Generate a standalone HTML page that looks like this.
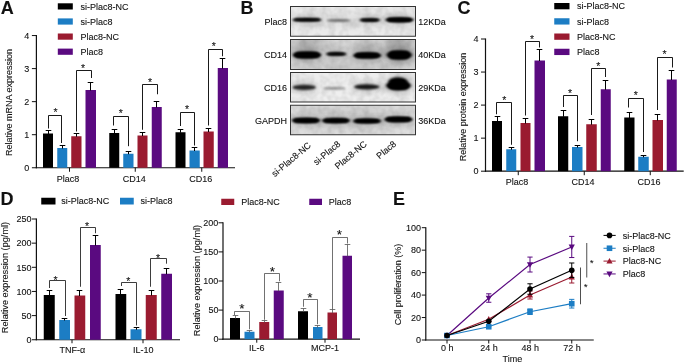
<!DOCTYPE html>
<html><head><meta charset="utf-8"><title>Figure</title>
<style>
html,body{margin:0;padding:0;background:#fff;}
body{width:685px;height:364px;overflow:hidden;}
svg{display:block;}
svg text{font-family:"Liberation Sans",sans-serif;fill:#111;stroke:#111;stroke-width:0.1px;}
</style></head><body>
<svg width="685" height="364" viewBox="0 0 685 364">
<rect x="0" y="0" width="685" height="364" fill="#ffffff"/>
<g opacity="0.999">
<text x="0.8" y="13.8" font-size="18" text-anchor="start" font-weight="bold" >A</text>
<rect x="57.8" y="3.3" width="15" height="6.2" fill="#000000"/>
<text x="80.5" y="9.8" font-size="9" text-anchor="start" font-weight="normal" >si-Plac8-NC</text>
<rect x="57.8" y="18.4" width="15" height="6.2" fill="#1c7dc4"/>
<text x="80.5" y="24.9" font-size="9" text-anchor="start" font-weight="normal" >si-Plac8</text>
<rect x="57.8" y="33.5" width="15" height="6.2" fill="#9a1b30"/>
<text x="80.5" y="40" font-size="9" text-anchor="start" font-weight="normal" >Plac8-NC</text>
<rect x="57.8" y="48.6" width="15" height="6.2" fill="#5a0a80"/>
<text x="80.5" y="55.1" font-size="9" text-anchor="start" font-weight="normal" >Plac8</text>
<line x1="36.4" y1="35.05" x2="36.4" y2="168.35" stroke="#111" stroke-width="1.2"/>
<line x1="35.8" y1="167.75" x2="235" y2="167.75" stroke="#111" stroke-width="1.2"/>
<line x1="31.9" y1="167.75" x2="36.4" y2="167.75" stroke="#111" stroke-width="1.0"/>
<text x="29.2" y="170.95" font-size="9" text-anchor="end" font-weight="normal" >0</text>
<line x1="31.9" y1="134.7" x2="36.4" y2="134.7" stroke="#111" stroke-width="1.0"/>
<text x="29.2" y="137.9" font-size="9" text-anchor="end" font-weight="normal" >1</text>
<line x1="31.9" y1="101.65" x2="36.4" y2="101.65" stroke="#111" stroke-width="1.0"/>
<text x="29.2" y="104.85" font-size="9" text-anchor="end" font-weight="normal" >2</text>
<line x1="31.9" y1="68.6" x2="36.4" y2="68.6" stroke="#111" stroke-width="1.0"/>
<text x="29.2" y="71.8" font-size="9" text-anchor="end" font-weight="normal" >3</text>
<line x1="31.9" y1="35.55" x2="36.4" y2="35.55" stroke="#111" stroke-width="1.0"/>
<text x="29.2" y="38.75" font-size="9" text-anchor="end" font-weight="normal" >4</text>
<text transform="translate(12.4,102.5) rotate(-90)" font-size="9" text-anchor="middle">Relative mRNA expression</text>
<rect x="43" y="133.5" width="10" height="34.25" fill="#000000"/>
<line x1="48.5" y1="134" x2="48.5" y2="130.5" stroke="#000" stroke-width="1"/>
<line x1="45.7" y1="130.5" x2="51.3" y2="130.5" stroke="#000" stroke-width="1"/>
<rect x="57.25" y="148" width="10" height="19.75" fill="#1c7dc4"/>
<line x1="62.5" y1="148.5" x2="62.5" y2="145.5" stroke="#000" stroke-width="1"/>
<line x1="59.7" y1="145.5" x2="65.3" y2="145.5" stroke="#000" stroke-width="1"/>
<rect x="71.25" y="136.25" width="10.25" height="31.5" fill="#9a1b30"/>
<line x1="76.5" y1="136.75" x2="76.5" y2="133.5" stroke="#000" stroke-width="1"/>
<line x1="73.7" y1="133.5" x2="79.3" y2="133.5" stroke="#000" stroke-width="1"/>
<rect x="85.5" y="90" width="10.5" height="77.75" fill="#5a0a80"/>
<line x1="90.5" y1="90.5" x2="90.5" y2="82.5" stroke="#000" stroke-width="1"/>
<line x1="87.7" y1="82.5" x2="93.3" y2="82.5" stroke="#000" stroke-width="1"/>
<rect x="109.25" y="133" width="10" height="34.75" fill="#000000"/>
<line x1="114.5" y1="133.5" x2="114.5" y2="129.5" stroke="#000" stroke-width="1"/>
<line x1="111.7" y1="129.5" x2="117.3" y2="129.5" stroke="#000" stroke-width="1"/>
<rect x="123.25" y="153.75" width="10.25" height="14" fill="#1c7dc4"/>
<line x1="128.5" y1="154.25" x2="128.5" y2="151.5" stroke="#000" stroke-width="1"/>
<line x1="125.7" y1="151.5" x2="131.3" y2="151.5" stroke="#000" stroke-width="1"/>
<rect x="137.5" y="135.5" width="10" height="32.25" fill="#9a1b30"/>
<line x1="142.5" y1="136" x2="142.5" y2="132.5" stroke="#000" stroke-width="1"/>
<line x1="139.7" y1="132.5" x2="145.3" y2="132.5" stroke="#000" stroke-width="1"/>
<rect x="151.75" y="107" width="10" height="60.75" fill="#5a0a80"/>
<line x1="156.5" y1="107.5" x2="156.5" y2="101.5" stroke="#000" stroke-width="1"/>
<line x1="153.7" y1="101.5" x2="159.3" y2="101.5" stroke="#000" stroke-width="1"/>
<rect x="175.5" y="132.25" width="10" height="35.5" fill="#000000"/>
<line x1="180.5" y1="132.75" x2="180.5" y2="129.5" stroke="#000" stroke-width="1"/>
<line x1="177.7" y1="129.5" x2="183.3" y2="129.5" stroke="#000" stroke-width="1"/>
<rect x="189.5" y="150.5" width="10.25" height="17.25" fill="#1c7dc4"/>
<line x1="194.5" y1="151" x2="194.5" y2="147.5" stroke="#000" stroke-width="1"/>
<line x1="191.7" y1="147.5" x2="197.3" y2="147.5" stroke="#000" stroke-width="1"/>
<rect x="203.5" y="131.5" width="10.25" height="36.25" fill="#9a1b30"/>
<line x1="208.5" y1="132" x2="208.5" y2="128.5" stroke="#000" stroke-width="1"/>
<line x1="205.7" y1="128.5" x2="211.3" y2="128.5" stroke="#000" stroke-width="1"/>
<rect x="217.75" y="68" width="10.25" height="99.75" fill="#5a0a80"/>
<line x1="222.5" y1="68.5" x2="222.5" y2="58.5" stroke="#000" stroke-width="1"/>
<line x1="219.7" y1="58.5" x2="225.3" y2="58.5" stroke="#000" stroke-width="1"/>
<line x1="69.5" y1="167.75" x2="69.5" y2="171.75" stroke="#111" stroke-width="1.0"/>
<text x="68" y="181.6" font-size="9" text-anchor="middle" font-weight="normal" >Plac8</text>
<line x1="135.25" y1="167.75" x2="135.25" y2="171.75" stroke="#111" stroke-width="1.0"/>
<text x="134.25" y="181.6" font-size="9" text-anchor="middle" font-weight="normal" >CD14</text>
<line x1="201.75" y1="167.75" x2="201.75" y2="171.75" stroke="#111" stroke-width="1.0"/>
<text x="200.75" y="181.6" font-size="9" text-anchor="middle" font-weight="normal" >CD16</text>
<polyline points="48.5,128.5 48.5,115.5 61.5,115.5 61.5,143" fill="none" stroke="#000" stroke-width="0.9"/>
<text x="55.5" y="116.15" font-size="10.5" text-anchor="middle" font-weight="normal" >*</text>
<polyline points="76.5,131.5 76.5,70.5 91.5,70.5 91.5,78" fill="none" stroke="#000" stroke-width="0.9"/>
<text x="83" y="72.4" font-size="10.5" text-anchor="middle" font-weight="normal" >*</text>
<polyline points="113.5,125.5 113.5,116.5 128.5,116.5 128.5,146.2" fill="none" stroke="#000" stroke-width="0.9"/>
<text x="120.75" y="117.2" font-size="10.5" text-anchor="middle" font-weight="normal" >*</text>
<polyline points="142.5,129.75 142.5,84.5 157.5,84.5 157.5,94.25" fill="none" stroke="#000" stroke-width="0.9"/>
<text x="150" y="86.4" font-size="10.5" text-anchor="middle" font-weight="normal" >*</text>
<polyline points="180.5,126 180.5,112.5 194.5,112.5 194.5,145.5" fill="none" stroke="#000" stroke-width="0.9"/>
<text x="187" y="113.4" font-size="10.5" text-anchor="middle" font-weight="normal" >*</text>
<polyline points="208.5,125.5 208.5,49.5 222.5,49.5 222.5,56.25" fill="none" stroke="#000" stroke-width="0.9"/>
<text x="213.75" y="50.15" font-size="10.5" text-anchor="middle" font-weight="normal" >*</text>
<text x="457.4" y="13.9" font-size="18" text-anchor="start" font-weight="bold" >C</text>
<rect x="554.25" y="3" width="15.25" height="6.3" fill="#000000"/>
<text x="577" y="9.3" font-size="9" text-anchor="start" font-weight="normal" >si-Plac8-NC</text>
<rect x="554.25" y="18.25" width="15.25" height="6.3" fill="#1c7dc4"/>
<text x="577" y="24.55" font-size="9" text-anchor="start" font-weight="normal" >si-Plac8</text>
<rect x="554.25" y="33.5" width="15.25" height="6.3" fill="#9a1b30"/>
<text x="577" y="39.8" font-size="9" text-anchor="start" font-weight="normal" >Plac8-NC</text>
<rect x="554.25" y="48.75" width="15.25" height="6.3" fill="#5a0a80"/>
<text x="577" y="55.05" font-size="9" text-anchor="start" font-weight="normal" >Plac8</text>
<line x1="485.5" y1="38.5" x2="485.5" y2="171.8" stroke="#111" stroke-width="1.2"/>
<line x1="484.9" y1="171.2" x2="683.7" y2="171.2" stroke="#111" stroke-width="1.2"/>
<line x1="481" y1="171.2" x2="485.5" y2="171.2" stroke="#111" stroke-width="1.0"/>
<text x="478.5" y="174.4" font-size="9" text-anchor="end" font-weight="normal" >0</text>
<line x1="481" y1="138.15" x2="485.5" y2="138.15" stroke="#111" stroke-width="1.0"/>
<text x="478.5" y="141.35" font-size="9" text-anchor="end" font-weight="normal" >1</text>
<line x1="481" y1="105.1" x2="485.5" y2="105.1" stroke="#111" stroke-width="1.0"/>
<text x="478.5" y="108.3" font-size="9" text-anchor="end" font-weight="normal" >2</text>
<line x1="481" y1="72.05" x2="485.5" y2="72.05" stroke="#111" stroke-width="1.0"/>
<text x="478.5" y="75.25" font-size="9" text-anchor="end" font-weight="normal" >3</text>
<line x1="481" y1="39" x2="485.5" y2="39" stroke="#111" stroke-width="1.0"/>
<text x="478.5" y="42.2" font-size="9" text-anchor="end" font-weight="normal" >4</text>
<text transform="translate(465.6,107) rotate(-90)" font-size="9" text-anchor="middle">Relative protein expression</text>
<rect x="492" y="121" width="10" height="50.2" fill="#000000"/>
<line x1="497.5" y1="121.5" x2="497.5" y2="116.5" stroke="#000" stroke-width="1"/>
<line x1="494.7" y1="116.5" x2="500.3" y2="116.5" stroke="#000" stroke-width="1"/>
<rect x="506.25" y="149.25" width="10" height="21.95" fill="#1c7dc4"/>
<line x1="511.5" y1="149.75" x2="511.5" y2="147.5" stroke="#000" stroke-width="1"/>
<line x1="508.7" y1="147.5" x2="514.3" y2="147.5" stroke="#000" stroke-width="1"/>
<rect x="520.5" y="123" width="10" height="48.2" fill="#9a1b30"/>
<line x1="525.5" y1="123.5" x2="525.5" y2="118.5" stroke="#000" stroke-width="1"/>
<line x1="522.7" y1="118.5" x2="528.3" y2="118.5" stroke="#000" stroke-width="1"/>
<rect x="534.5" y="60.5" width="10.5" height="110.7" fill="#5a0a80"/>
<line x1="539.5" y1="61" x2="539.5" y2="49.5" stroke="#000" stroke-width="1"/>
<line x1="536.7" y1="49.5" x2="542.3" y2="49.5" stroke="#000" stroke-width="1"/>
<rect x="558" y="116.25" width="10.25" height="54.95" fill="#000000"/>
<line x1="563.5" y1="116.75" x2="563.5" y2="110.5" stroke="#000" stroke-width="1"/>
<line x1="560.7" y1="110.5" x2="566.3" y2="110.5" stroke="#000" stroke-width="1"/>
<rect x="572" y="147" width="10.5" height="24.2" fill="#1c7dc4"/>
<line x1="577.5" y1="147.5" x2="577.5" y2="145.5" stroke="#000" stroke-width="1"/>
<line x1="574.7" y1="145.5" x2="580.3" y2="145.5" stroke="#000" stroke-width="1"/>
<rect x="586.25" y="124.25" width="10.5" height="46.95" fill="#9a1b30"/>
<line x1="591.5" y1="124.75" x2="591.5" y2="119.5" stroke="#000" stroke-width="1"/>
<line x1="588.7" y1="119.5" x2="594.3" y2="119.5" stroke="#000" stroke-width="1"/>
<rect x="600.75" y="89.25" width="10" height="81.95" fill="#5a0a80"/>
<line x1="605.5" y1="89.75" x2="605.5" y2="80.5" stroke="#000" stroke-width="1"/>
<line x1="602.7" y1="80.5" x2="608.3" y2="80.5" stroke="#000" stroke-width="1"/>
<rect x="624.25" y="117.5" width="10.25" height="53.7" fill="#000000"/>
<line x1="629.5" y1="118" x2="629.5" y2="112.5" stroke="#000" stroke-width="1"/>
<line x1="626.7" y1="112.5" x2="632.3" y2="112.5" stroke="#000" stroke-width="1"/>
<rect x="638.25" y="156.75" width="10.5" height="14.45" fill="#1c7dc4"/>
<line x1="643.5" y1="157.25" x2="643.5" y2="155.5" stroke="#000" stroke-width="1"/>
<line x1="640.7" y1="155.5" x2="646.3" y2="155.5" stroke="#000" stroke-width="1"/>
<rect x="652.5" y="120" width="10.5" height="51.2" fill="#9a1b30"/>
<line x1="657.5" y1="120.5" x2="657.5" y2="114.5" stroke="#000" stroke-width="1"/>
<line x1="654.7" y1="114.5" x2="660.3" y2="114.5" stroke="#000" stroke-width="1"/>
<rect x="666.75" y="79.5" width="10" height="91.7" fill="#5a0a80"/>
<line x1="671.5" y1="80" x2="671.5" y2="70.5" stroke="#000" stroke-width="1"/>
<line x1="668.7" y1="70.5" x2="674.3" y2="70.5" stroke="#000" stroke-width="1"/>
<line x1="518.25" y1="171.2" x2="518.25" y2="175.2" stroke="#111" stroke-width="1.0"/>
<text x="517" y="184.9" font-size="9" text-anchor="middle" font-weight="normal" >Plac8</text>
<line x1="584.25" y1="171.2" x2="584.25" y2="175.2" stroke="#111" stroke-width="1.0"/>
<text x="583" y="184.9" font-size="9" text-anchor="middle" font-weight="normal" >CD14</text>
<line x1="650.25" y1="171.2" x2="650.25" y2="175.2" stroke="#111" stroke-width="1.0"/>
<text x="649" y="184.9" font-size="9" text-anchor="middle" font-weight="normal" >CD16</text>
<polyline points="496.5,114.25 496.5,102.5 511.5,102.5 511.5,144.75" fill="none" stroke="#000" stroke-width="0.9"/>
<text x="504.25" y="103.8" font-size="10.5" text-anchor="middle" font-weight="normal" >*</text>
<polyline points="525.5,115.5 525.5,41.5 539.5,41.5 539.5,47.5" fill="none" stroke="#000" stroke-width="0.9"/>
<text x="532" y="43.1" font-size="10.5" text-anchor="middle" font-weight="normal" >*</text>
<polyline points="563.5,107 563.5,95.5 577.5,95.5 577.5,141.25" fill="none" stroke="#000" stroke-width="0.9"/>
<text x="570" y="96.85" font-size="10.5" text-anchor="middle" font-weight="normal" >*</text>
<polyline points="591.5,115 591.5,68.5 605.5,68.5 605.5,77" fill="none" stroke="#000" stroke-width="0.9"/>
<text x="598.25" y="70.1" font-size="10.5" text-anchor="middle" font-weight="normal" >*</text>
<polyline points="628.5,107.5 628.5,98.5 643.5,98.5 643.5,152" fill="none" stroke="#000" stroke-width="0.9"/>
<text x="635.75" y="98.6" font-size="10.5" text-anchor="middle" font-weight="normal" >*</text>
<polyline points="657.5,110 657.5,57.5 672.5,57.5 672.5,67.5" fill="none" stroke="#000" stroke-width="0.9"/>
<text x="664.5" y="58.1" font-size="10.5" text-anchor="middle" font-weight="normal" >*</text>
<text x="0.6" y="204.8" font-size="18" text-anchor="start" font-weight="bold" >D</text>
<rect x="41.25" y="197.75" width="14.25" height="6.75" fill="#000000"/>
<text x="61.25" y="204" font-size="9" text-anchor="start" font-weight="normal" >si-Plac8-NC</text>
<rect x="120" y="197.75" width="13.75" height="6.75" fill="#1c7dc4"/>
<text x="140.5" y="204" font-size="9" text-anchor="start" font-weight="normal" >si-Plac8</text>
<rect x="221.25" y="198.75" width="13" height="6.25" fill="#9a1b30"/>
<text x="241.25" y="204.5" font-size="9" text-anchor="start" font-weight="normal" >Plac8-NC</text>
<rect x="309.25" y="198.75" width="12.75" height="6.25" fill="#5a0a80"/>
<text x="328.75" y="204.5" font-size="9" text-anchor="start" font-weight="normal" >Plac8</text>
<line x1="36.4" y1="218.5" x2="36.4" y2="340.35" stroke="#111" stroke-width="1.2"/>
<line x1="35.8" y1="339.75" x2="180" y2="339.75" stroke="#111" stroke-width="1.2"/>
<line x1="31.9" y1="339.75" x2="36.4" y2="339.75" stroke="#111" stroke-width="1.0"/>
<text x="31.5" y="342.95" font-size="9" text-anchor="end" font-weight="normal" >0</text>
<line x1="31.9" y1="315.6" x2="36.4" y2="315.6" stroke="#111" stroke-width="1.0"/>
<text x="31.5" y="318.8" font-size="9" text-anchor="end" font-weight="normal" >50</text>
<line x1="31.9" y1="291.45" x2="36.4" y2="291.45" stroke="#111" stroke-width="1.0"/>
<text x="31.5" y="294.65" font-size="9" text-anchor="end" font-weight="normal" >100</text>
<line x1="31.9" y1="267.3" x2="36.4" y2="267.3" stroke="#111" stroke-width="1.0"/>
<text x="31.5" y="270.5" font-size="9" text-anchor="end" font-weight="normal" >150</text>
<line x1="31.9" y1="243.15" x2="36.4" y2="243.15" stroke="#111" stroke-width="1.0"/>
<text x="31.5" y="246.35" font-size="9" text-anchor="end" font-weight="normal" >200</text>
<line x1="31.9" y1="219" x2="36.4" y2="219" stroke="#111" stroke-width="1.0"/>
<text x="31.5" y="222.2" font-size="9" text-anchor="end" font-weight="normal" >250</text>
<text transform="translate(8.3,277.5) rotate(-90)" font-size="9.2" text-anchor="middle">Relative expression (pg/ml)</text>
<rect x="43.75" y="295" width="11" height="44.75" fill="#000000"/>
<line x1="49.5" y1="295.5" x2="49.5" y2="290.5" stroke="#000" stroke-width="1"/>
<line x1="46.7" y1="290.5" x2="52.3" y2="290.5" stroke="#000" stroke-width="1"/>
<rect x="59.25" y="320" width="10.75" height="19.75" fill="#1c7dc4"/>
<line x1="64.5" y1="320.5" x2="64.5" y2="318.5" stroke="#000" stroke-width="1"/>
<line x1="61.7" y1="318.5" x2="67.3" y2="318.5" stroke="#000" stroke-width="1"/>
<rect x="74.5" y="295.5" width="10.75" height="44.25" fill="#9a1b30"/>
<line x1="79.5" y1="296" x2="79.5" y2="290.5" stroke="#000" stroke-width="1"/>
<line x1="76.7" y1="290.5" x2="82.3" y2="290.5" stroke="#000" stroke-width="1"/>
<rect x="90" y="245" width="10.75" height="94.75" fill="#5a0a80"/>
<line x1="95.5" y1="245.5" x2="95.5" y2="235.5" stroke="#000" stroke-width="1"/>
<line x1="92.7" y1="235.5" x2="98.3" y2="235.5" stroke="#000" stroke-width="1"/>
<rect x="115.5" y="294" width="10.75" height="45.75" fill="#000000"/>
<line x1="120.5" y1="294.5" x2="120.5" y2="289.5" stroke="#000" stroke-width="1"/>
<line x1="117.7" y1="289.5" x2="123.3" y2="289.5" stroke="#000" stroke-width="1"/>
<rect x="130.5" y="329.25" width="11" height="10.5" fill="#1c7dc4"/>
<line x1="136.5" y1="329.75" x2="136.5" y2="327.5" stroke="#000" stroke-width="1"/>
<line x1="133.7" y1="327.5" x2="139.3" y2="327.5" stroke="#000" stroke-width="1"/>
<rect x="145.75" y="295" width="11" height="44.75" fill="#9a1b30"/>
<line x1="151.5" y1="295.5" x2="151.5" y2="290.5" stroke="#000" stroke-width="1"/>
<line x1="148.7" y1="290.5" x2="154.3" y2="290.5" stroke="#000" stroke-width="1"/>
<rect x="161.25" y="273.75" width="10.75" height="66" fill="#5a0a80"/>
<line x1="166.5" y1="274.25" x2="166.5" y2="268.5" stroke="#000" stroke-width="1"/>
<line x1="163.7" y1="268.5" x2="169.3" y2="268.5" stroke="#000" stroke-width="1"/>
<line x1="72" y1="339.75" x2="72" y2="343.25" stroke="#111" stroke-width="1.0"/>
<text x="72.3" y="352.5" font-size="9" text-anchor="middle" font-weight="normal" >TNF-α</text>
<line x1="143" y1="339.75" x2="143" y2="343.25" stroke="#111" stroke-width="1.0"/>
<text x="143.3" y="352.5" font-size="9" text-anchor="middle" font-weight="normal" >IL-10</text>
<polyline points="49.5,288 49.5,280.5 65.5,280.5 65.5,316" fill="none" stroke="#1a1a1a" stroke-width="0.85"/>
<text x="55.5" y="283.9" font-size="10.5" text-anchor="middle" font-weight="normal" >*</text>
<polyline points="80.5,286.75 80.5,227.5 95.5,227.5 95.5,233.25" fill="none" stroke="#1a1a1a" stroke-width="0.85"/>
<text x="87" y="229.65" font-size="10.5" text-anchor="middle" font-weight="normal" >*</text>
<polyline points="121.5,286 121.5,282.5 136.5,282.5 136.5,325.5" fill="none" stroke="#1a1a1a" stroke-width="0.85"/>
<text x="128.25" y="285.15" font-size="10.5" text-anchor="middle" font-weight="normal" >*</text>
<polyline points="150.5,286.75 150.5,258.5 166.5,258.5 166.5,263.7" fill="none" stroke="#1a1a1a" stroke-width="0.85"/>
<text x="158" y="261.65" font-size="10.5" text-anchor="middle" font-weight="normal" >*</text>
<line x1="223" y1="222.3" x2="223" y2="339.8" stroke="#111" stroke-width="1.2"/>
<line x1="222.4" y1="339.2" x2="360" y2="339.2" stroke="#111" stroke-width="1.2"/>
<line x1="218.5" y1="339.2" x2="223" y2="339.2" stroke="#111" stroke-width="1.0"/>
<text x="218.4" y="342.4" font-size="9" text-anchor="end" font-weight="normal" >0</text>
<line x1="218.5" y1="310.1" x2="223" y2="310.1" stroke="#111" stroke-width="1.0"/>
<text x="218.4" y="313.3" font-size="9" text-anchor="end" font-weight="normal" >50</text>
<line x1="218.5" y1="281" x2="223" y2="281" stroke="#111" stroke-width="1.0"/>
<text x="218.4" y="284.2" font-size="9" text-anchor="end" font-weight="normal" >100</text>
<line x1="218.5" y1="251.9" x2="223" y2="251.9" stroke="#111" stroke-width="1.0"/>
<text x="218.4" y="255.1" font-size="9" text-anchor="end" font-weight="normal" >150</text>
<line x1="218.5" y1="222.8" x2="223" y2="222.8" stroke="#111" stroke-width="1.0"/>
<text x="218.4" y="226" font-size="9" text-anchor="end" font-weight="normal" >200</text>
<text transform="translate(199.5,280.5) rotate(-90)" font-size="9.2" text-anchor="middle">Relative expression (pg/ml)</text>
<rect x="230" y="318" width="10" height="21.2" fill="#000000"/>
<line x1="235.5" y1="318.5" x2="235.5" y2="315.5" stroke="#555" stroke-width="0.8"/>
<line x1="232.7" y1="315.5" x2="238.3" y2="315.5" stroke="#555" stroke-width="0.8"/>
<rect x="244.5" y="331.75" width="10" height="7.45" fill="#1c7dc4"/>
<line x1="249.5" y1="332.25" x2="249.5" y2="330.5" stroke="#555" stroke-width="0.8"/>
<line x1="246.7" y1="330.5" x2="252.3" y2="330.5" stroke="#555" stroke-width="0.8"/>
<rect x="259.25" y="322" width="10" height="17.2" fill="#9a1b30"/>
<line x1="264.5" y1="322.5" x2="264.5" y2="320.5" stroke="#555" stroke-width="0.8"/>
<line x1="261.7" y1="320.5" x2="267.3" y2="320.5" stroke="#555" stroke-width="0.8"/>
<rect x="273.75" y="290.5" width="10" height="48.7" fill="#5a0a80"/>
<line x1="278.5" y1="291" x2="278.5" y2="282.5" stroke="#555" stroke-width="0.8"/>
<line x1="275.7" y1="282.5" x2="281.3" y2="282.5" stroke="#555" stroke-width="0.8"/>
<rect x="298" y="311.25" width="10" height="27.95" fill="#000000"/>
<line x1="303.5" y1="311.75" x2="303.5" y2="308.5" stroke="#555" stroke-width="0.8"/>
<line x1="300.7" y1="308.5" x2="306.3" y2="308.5" stroke="#555" stroke-width="0.8"/>
<rect x="313" y="327" width="9.5" height="12.2" fill="#1c7dc4"/>
<line x1="317.5" y1="327.5" x2="317.5" y2="325.5" stroke="#555" stroke-width="0.8"/>
<line x1="314.7" y1="325.5" x2="320.3" y2="325.5" stroke="#555" stroke-width="0.8"/>
<rect x="327.5" y="312.5" width="9.5" height="26.7" fill="#9a1b30"/>
<line x1="332.5" y1="313" x2="332.5" y2="309.5" stroke="#555" stroke-width="0.8"/>
<line x1="329.7" y1="309.5" x2="335.3" y2="309.5" stroke="#555" stroke-width="0.8"/>
<rect x="342.5" y="255.75" width="9.5" height="83.45" fill="#5a0a80"/>
<line x1="347.5" y1="256.25" x2="347.5" y2="244.5" stroke="#555" stroke-width="0.8"/>
<line x1="344.7" y1="244.5" x2="350.3" y2="244.5" stroke="#555" stroke-width="0.8"/>
<line x1="256.75" y1="339.2" x2="256.75" y2="342.7" stroke="#111" stroke-width="1.0"/>
<text x="256.75" y="351.3" font-size="9" text-anchor="middle" font-weight="normal" >IL-6</text>
<line x1="325" y1="339.2" x2="325" y2="342.7" stroke="#111" stroke-width="1.0"/>
<text x="325" y="351.3" font-size="9" text-anchor="middle" font-weight="normal" >MCP-1</text>
<polyline points="234.5,315 234.5,311.5 249.5,311.5 249.5,329.25" fill="none" stroke="#333" stroke-width="0.7"/>
<text x="242" y="312.98" font-size="13.5" text-anchor="middle" font-weight="normal" >*</text>
<polyline points="264.5,319.75 264.5,273.5 279.5,273.5 279.5,281.25" fill="none" stroke="#333" stroke-width="0.7"/>
<text x="272.5" y="275.73" font-size="13.5" text-anchor="middle" font-weight="normal" >*</text>
<polyline points="303.5,306.75 303.5,299.5 317.5,299.5 317.5,324.25" fill="none" stroke="#333" stroke-width="0.7"/>
<text x="310" y="301.73" font-size="13.5" text-anchor="middle" font-weight="normal" >*</text>
<polyline points="332.5,309.25 332.5,237.5 347.5,237.5 347.5,243.5" fill="none" stroke="#333" stroke-width="0.7"/>
<text x="339.5" y="239.48" font-size="13.5" text-anchor="middle" font-weight="normal" >*</text>
<text x="393" y="204.8" font-size="18" text-anchor="start" font-weight="bold" >E</text>
<line x1="425.8" y1="227.2" x2="425.8" y2="340.6" stroke="#111" stroke-width="1.2"/>
<line x1="425.2" y1="340" x2="593.75" y2="340" stroke="#111" stroke-width="1.2"/>
<line x1="421.8" y1="340" x2="425.8" y2="340" stroke="#111" stroke-width="1.0"/>
<text x="421" y="343.2" font-size="9" text-anchor="end" font-weight="normal" >0</text>
<line x1="421.8" y1="317.54" x2="425.8" y2="317.54" stroke="#111" stroke-width="1.0"/>
<text x="421" y="320.74" font-size="9" text-anchor="end" font-weight="normal" >20</text>
<line x1="421.8" y1="295.08" x2="425.8" y2="295.08" stroke="#111" stroke-width="1.0"/>
<text x="421" y="298.28" font-size="9" text-anchor="end" font-weight="normal" >40</text>
<line x1="421.8" y1="272.62" x2="425.8" y2="272.62" stroke="#111" stroke-width="1.0"/>
<text x="421" y="275.82" font-size="9" text-anchor="end" font-weight="normal" >60</text>
<line x1="421.8" y1="250.16" x2="425.8" y2="250.16" stroke="#111" stroke-width="1.0"/>
<text x="421" y="253.36" font-size="9" text-anchor="end" font-weight="normal" >80</text>
<line x1="421.8" y1="227.7" x2="425.8" y2="227.7" stroke="#111" stroke-width="1.0"/>
<text x="421" y="230.9" font-size="9" text-anchor="end" font-weight="normal" >100</text>
<text transform="translate(401.3,284.5) rotate(-90)" font-size="9" text-anchor="middle">Cell proliferation (%)</text>
<line x1="447" y1="340" x2="447" y2="343.5" stroke="#111" stroke-width="1.0"/>
<text x="447.3" y="351.2" font-size="9" text-anchor="middle" font-weight="normal" >0 h</text>
<line x1="488.75" y1="340" x2="488.75" y2="343.5" stroke="#111" stroke-width="1.0"/>
<text x="489.05" y="351.2" font-size="9" text-anchor="middle" font-weight="normal" >24 h</text>
<line x1="530" y1="340" x2="530" y2="343.5" stroke="#111" stroke-width="1.0"/>
<text x="530.3" y="351.2" font-size="9" text-anchor="middle" font-weight="normal" >48 h</text>
<line x1="571.75" y1="340" x2="571.75" y2="343.5" stroke="#111" stroke-width="1.0"/>
<text x="572.05" y="351.2" font-size="9" text-anchor="middle" font-weight="normal" >72 h</text>
<text x="512.4" y="362.3" font-size="9" text-anchor="middle" font-weight="normal" >Time</text>
<polyline points="447,335.52 488.75,298.03 530,264.55 571.75,246.97" fill="none" stroke="#5a0a80" stroke-width="1.2"/>
<polygon points="447,338.72 450.1,333.12 443.9,333.12" fill="#5a0a80"/>
<line x1="488.75" y1="293.8" x2="488.75" y2="302.26" stroke="#5a0a80" stroke-width="1"/>
<line x1="486.15" y1="293.8" x2="491.35" y2="293.8" stroke="#5a0a80" stroke-width="1"/>
<line x1="486.15" y1="302.26" x2="491.35" y2="302.26" stroke="#5a0a80" stroke-width="1"/>
<polygon points="488.75,301.23 491.85,295.63 485.65,295.63" fill="#5a0a80"/>
<line x1="530" y1="257.09" x2="530" y2="272" stroke="#5a0a80" stroke-width="1"/>
<line x1="527.4" y1="257.09" x2="532.6" y2="257.09" stroke="#5a0a80" stroke-width="1"/>
<line x1="527.4" y1="272" x2="532.6" y2="272" stroke="#5a0a80" stroke-width="1"/>
<polygon points="530,267.75 533.1,262.15 526.9,262.15" fill="#5a0a80"/>
<line x1="571.75" y1="236.4" x2="571.75" y2="257.54" stroke="#5a0a80" stroke-width="1"/>
<line x1="569.15" y1="236.4" x2="574.35" y2="236.4" stroke="#5a0a80" stroke-width="1"/>
<line x1="569.15" y1="257.54" x2="574.35" y2="257.54" stroke="#5a0a80" stroke-width="1"/>
<polygon points="571.75,250.17 574.85,244.57 568.65,244.57" fill="#5a0a80"/>
<polyline points="447,335.52 488.75,319.28 530,295.03 571.75,277" fill="none" stroke="#9a1b30" stroke-width="1.2"/>
<polygon points="447,332.32 450.1,337.92 443.9,337.92" fill="#9a1b30"/>
<polygon points="488.75,316.08 491.85,321.68 485.65,321.68" fill="#9a1b30"/>
<line x1="530" y1="291.02" x2="530" y2="299.03" stroke="#9a1b30" stroke-width="1"/>
<line x1="527.4" y1="291.02" x2="532.6" y2="291.02" stroke="#9a1b30" stroke-width="1"/>
<line x1="527.4" y1="299.03" x2="532.6" y2="299.03" stroke="#9a1b30" stroke-width="1"/>
<polygon points="530,291.83 533.1,297.43 526.9,297.43" fill="#9a1b30"/>
<line x1="571.75" y1="271" x2="571.75" y2="283.01" stroke="#9a1b30" stroke-width="1"/>
<line x1="569.15" y1="271" x2="574.35" y2="271" stroke="#9a1b30" stroke-width="1"/>
<line x1="569.15" y1="283.01" x2="574.35" y2="283.01" stroke="#9a1b30" stroke-width="1"/>
<polygon points="571.75,273.81 574.85,279.4 568.65,279.4" fill="#9a1b30"/>
<polyline points="447,335.52 488.75,326.73 530,311.71 571.75,303.7" fill="none" stroke="#1c7dc4" stroke-width="1.2"/>
<rect x="444.2" y="332.72" width="5.6" height="5.6" fill="#1c7dc4"/>
<rect x="485.95" y="323.93" width="5.6" height="5.6" fill="#1c7dc4"/>
<line x1="530" y1="308.93" x2="530" y2="314.5" stroke="#1c7dc4" stroke-width="1"/>
<line x1="527.4" y1="308.93" x2="532.6" y2="308.93" stroke="#1c7dc4" stroke-width="1"/>
<line x1="527.4" y1="314.5" x2="532.6" y2="314.5" stroke="#1c7dc4" stroke-width="1"/>
<rect x="527.2" y="308.91" width="5.6" height="5.6" fill="#1c7dc4"/>
<line x1="571.75" y1="299.37" x2="571.75" y2="308.04" stroke="#1c7dc4" stroke-width="1"/>
<line x1="569.15" y1="299.37" x2="574.35" y2="299.37" stroke="#1c7dc4" stroke-width="1"/>
<line x1="569.15" y1="308.04" x2="574.35" y2="308.04" stroke="#1c7dc4" stroke-width="1"/>
<rect x="568.95" y="300.9" width="5.6" height="5.6" fill="#1c7dc4"/>
<polyline points="447,335.52 488.75,321.28 530,289.02 571.75,270.22" fill="none" stroke="#000000" stroke-width="1.2"/>
<circle cx="447" cy="335.52" r="2.8" fill="#000000"/>
<circle cx="488.75" cy="321.28" r="2.8" fill="#000000"/>
<line x1="530" y1="283.79" x2="530" y2="294.25" stroke="#000000" stroke-width="1"/>
<line x1="527.4" y1="283.79" x2="532.6" y2="283.79" stroke="#000000" stroke-width="1"/>
<line x1="527.4" y1="294.25" x2="532.6" y2="294.25" stroke="#000000" stroke-width="1"/>
<circle cx="530" cy="289.02" r="2.8" fill="#000000"/>
<line x1="571.75" y1="262.99" x2="571.75" y2="277.45" stroke="#000000" stroke-width="1"/>
<line x1="569.15" y1="262.99" x2="574.35" y2="262.99" stroke="#000000" stroke-width="1"/>
<line x1="569.15" y1="277.45" x2="574.35" y2="277.45" stroke="#000000" stroke-width="1"/>
<circle cx="571.75" cy="270.22" r="2.8" fill="#000000"/>
<line x1="586.75" y1="243" x2="586.75" y2="277.5" stroke="#222" stroke-width="0.8"/>
<text x="591.75" y="265.79" font-size="9" text-anchor="middle" font-weight="normal" >*</text>
<line x1="580.5" y1="267.5" x2="580.5" y2="304.25" stroke="#222" stroke-width="0.8"/>
<text x="585.75" y="290.29" font-size="9" text-anchor="middle" font-weight="normal" >*</text>
<line x1="603.5" y1="235.4" x2="615.7" y2="235.4" stroke="#000000" stroke-width="1"/>
<circle cx="609.5" cy="235.4" r="2.8" fill="#000000"/>
<text x="622.7" y="238.7" font-size="9" text-anchor="start" font-weight="normal" >si-Plac8-NC</text>
<line x1="603.5" y1="248.25" x2="615.7" y2="248.25" stroke="#1c7dc4" stroke-width="1"/>
<rect x="606.7" y="245.45" width="5.6" height="5.6" fill="#1c7dc4"/>
<text x="622.7" y="251.55" font-size="9" text-anchor="start" font-weight="normal" >si-Plac8</text>
<line x1="603.5" y1="261.1" x2="615.7" y2="261.1" stroke="#9a1b30" stroke-width="1"/>
<polygon points="609.5,257.9 612.6,263.5 606.4,263.5" fill="#9a1b30"/>
<text x="622.7" y="264.4" font-size="9" text-anchor="start" font-weight="normal" >Plac8-NC</text>
<line x1="603.5" y1="273.95" x2="615.7" y2="273.95" stroke="#5a0a80" stroke-width="1"/>
<polygon points="609.5,277.15 612.6,271.55 606.4,271.55" fill="#5a0a80"/>
<text x="622.7" y="277.25" font-size="9" text-anchor="start" font-weight="normal" >Plac8</text>
<text x="240.6" y="13.7" font-size="18" text-anchor="start" font-weight="bold" >B</text>
<defs>
<filter id="b1" x="-30%" y="-150%" width="160%" height="400%"><feGaussianBlur stdDeviation="1.3 0.8"/></filter>
<filter id="b2" x="-30%" y="-150%" width="160%" height="400%"><feGaussianBlur stdDeviation="1.8 1.1"/></filter>
<filter id="b3" x="-30%" y="-150%" width="160%" height="400%"><feGaussianBlur stdDeviation="4 3"/></filter>
<filter id="nz" x="0" y="0" width="100%" height="100%"><feTurbulence type="fractalNoise" baseFrequency="0.14" numOctaves="2" seed="3"/><feColorMatrix type="matrix" values="0 0 0 0 0  0 0 0 0 0  0 0 0 0 0  0.9 0 0 0 -0.28"/></filter>
<filter id="b4" x="-50%" y="-50%" width="200%" height="200%"><feGaussianBlur stdDeviation="6 5"/></filter>
</defs>
<clipPath id="cp0"><rect x="290.5" y="6.5" width="125" height="29.75"/></clipPath>
<g clip-path="url(#cp0)">
<rect x="290.5" y="6.5" width="125" height="29.75" fill="#ebebeb"/>
<ellipse cx="350" cy="20" rx="60" ry="6" fill="#000" opacity="0.05" filter="url(#b4)"/>
<ellipse cx="400" cy="14" rx="12" ry="6" fill="#000" opacity="0.04" filter="url(#b4)"/>
<ellipse cx="307" cy="19.8" rx="16" ry="4" fill="#000" opacity="0.15" filter="url(#b3)"/>
<ellipse cx="307" cy="19.8" rx="15" ry="1.8" fill="#000" opacity="1" filter="url(#b1)"/>
<rect x="294.5" y="18.8" width="25" height="2" rx="1" fill="#000" opacity="1" filter="url(#b1)"/>
<ellipse cx="338.75" cy="20.4" rx="12.25" ry="1.4" fill="#000" opacity="0.55" filter="url(#b1)"/>
<ellipse cx="369.75" cy="20" rx="11.75" ry="3.9" fill="#000" opacity="0.15" filter="url(#b3)"/>
<ellipse cx="369.75" cy="20" rx="10.75" ry="1.7" fill="#000" opacity="0.95" filter="url(#b1)"/>
<rect x="361.5" y="19.1" width="16.5" height="1.8" rx="0.9" fill="#000" opacity="1" filter="url(#b1)"/>
<ellipse cx="399.5" cy="19.8" rx="15.5" ry="4.8" fill="#000" opacity="0.15" filter="url(#b3)"/>
<ellipse cx="399.5" cy="19.8" rx="14.5" ry="2.6" fill="#000" opacity="1" filter="url(#b1)"/>
<rect x="387.5" y="18" width="24" height="3.6" rx="1.8" fill="#000" opacity="1" filter="url(#b1)"/>
<rect x="290.5" y="6.5" width="125" height="29.75" fill="#000" opacity="0.2" filter="url(#nz)"/>
</g>
<rect x="290.5" y="6.5" width="125" height="29.75" fill="none" stroke="#333" stroke-width="1"/>
<clipPath id="cp1"><rect x="290.5" y="39.5" width="125" height="30"/></clipPath>
<g clip-path="url(#cp1)">
<rect x="290.5" y="39.5" width="125" height="30" fill="#dadada"/>
<ellipse cx="307" cy="48" rx="15" ry="12" fill="#000" opacity="0.2" filter="url(#b4)"/>
<ellipse cx="399" cy="50" rx="14" ry="14" fill="#000" opacity="0.26" filter="url(#b4)"/>
<ellipse cx="367" cy="50" rx="14" ry="10" fill="#000" opacity="0.16" filter="url(#b4)"/>
<ellipse cx="336" cy="47" rx="9" ry="7" fill="#000" opacity="0.06" filter="url(#b4)"/>
<ellipse cx="350" cy="66" rx="60" ry="5" fill="#000" opacity="0.08" filter="url(#b4)"/>
<ellipse cx="307" cy="55" rx="15.5" ry="5.7" fill="#000" opacity="0.15" filter="url(#b3)"/>
<ellipse cx="307" cy="55" rx="14.5" ry="3.5" fill="#000" opacity="1" filter="url(#b1)"/>
<rect x="295" y="52.3" width="24" height="5.4" rx="2.7" fill="#000" opacity="1" filter="url(#b1)"/>
<ellipse cx="336.25" cy="53.9" rx="11.75" ry="4" fill="#000" opacity="0.15" filter="url(#b3)"/>
<ellipse cx="336.25" cy="53.9" rx="10.75" ry="1.8" fill="#000" opacity="0.95" filter="url(#b1)"/>
<rect x="328" y="52.9" width="16.5" height="2" rx="1" fill="#000" opacity="1" filter="url(#b1)"/>
<ellipse cx="367.25" cy="55.4" rx="15.25" ry="5.4" fill="#000" opacity="0.15" filter="url(#b3)"/>
<ellipse cx="367.25" cy="55.4" rx="14.25" ry="3.2" fill="#000" opacity="1" filter="url(#b1)"/>
<rect x="355.5" y="53" width="23.5" height="4.8" rx="2.4" fill="#000" opacity="1" filter="url(#b1)"/>
<ellipse cx="399.25" cy="55" rx="13.75" ry="6.7" fill="#000" opacity="0.15" filter="url(#b3)"/>
<ellipse cx="399.25" cy="55" rx="12.75" ry="4.5" fill="#000" opacity="1" filter="url(#b2)"/>
<rect x="389" y="51.3" width="20.5" height="7.4" rx="3.7" fill="#000" opacity="1" filter="url(#b1)"/>
<rect x="290.5" y="39.5" width="125" height="30" fill="#000" opacity="0.2" filter="url(#nz)"/>
</g>
<rect x="290.5" y="39.5" width="125" height="30" fill="none" stroke="#333" stroke-width="1"/>
<clipPath id="cp2"><rect x="290.5" y="72.5" width="125" height="29.5"/></clipPath>
<g clip-path="url(#cp2)">
<rect x="290.5" y="72.5" width="125" height="29.5" fill="#efefef"/>
<ellipse cx="399" cy="84" rx="15" ry="13" fill="#000" opacity="0.07" filter="url(#b4)"/>
<ellipse cx="305" cy="87" rx="14" ry="8" fill="#000" opacity="0.04" filter="url(#b4)"/>
<ellipse cx="367" cy="87" rx="14" ry="8" fill="#000" opacity="0.04" filter="url(#b4)"/>
<ellipse cx="304.25" cy="87.4" rx="12.75" ry="4.8" fill="#000" opacity="0.15" filter="url(#b3)"/>
<ellipse cx="304.25" cy="87.4" rx="11.75" ry="2.6" fill="#000" opacity="0.82" filter="url(#b1)"/>
<ellipse cx="334.5" cy="88.4" rx="11.5" ry="1.3" fill="#000" opacity="0.42" filter="url(#b1)"/>
<ellipse cx="366.75" cy="86.8" rx="13.75" ry="4.8" fill="#000" opacity="0.15" filter="url(#b3)"/>
<ellipse cx="366.75" cy="86.8" rx="12.75" ry="2.6" fill="#000" opacity="0.88" filter="url(#b1)"/>
<ellipse cx="398.5" cy="85.6" rx="13.5" ry="6.8" fill="#000" opacity="0.15" filter="url(#b3)"/>
<ellipse cx="398.5" cy="85.6" rx="12.5" ry="4.6" fill="#000" opacity="1" filter="url(#b2)"/>
<ellipse cx="398" cy="81.4" rx="9.5" ry="4.2" fill="#000" opacity="1" filter="url(#b2)"/>
<rect x="388.5" y="81.8" width="20" height="7.6" rx="3.8" fill="#000" opacity="1" filter="url(#b1)"/>
<rect x="290.5" y="72.5" width="125" height="29.5" fill="#000" opacity="0.2" filter="url(#nz)"/>
</g>
<rect x="290.5" y="72.5" width="125" height="29.5" fill="none" stroke="#333" stroke-width="1"/>
<clipPath id="cp3"><rect x="290.5" y="105.25" width="125" height="29.5"/></clipPath>
<g clip-path="url(#cp3)">
<rect x="290.5" y="105.25" width="125" height="29.5" fill="#dedede"/>
<ellipse cx="350" cy="120" rx="62" ry="9" fill="#000" opacity="0.07" filter="url(#b4)"/>
<ellipse cx="350" cy="108" rx="62" ry="3" fill="#000" opacity="0.05" filter="url(#b4)"/>
<ellipse cx="306" cy="120.5" rx="15.5" ry="4.9" fill="#000" opacity="0.15" filter="url(#b3)"/>
<ellipse cx="306" cy="120.5" rx="14.5" ry="2.7" fill="#000" opacity="1" filter="url(#b1)"/>
<rect x="294" y="118.6" width="24" height="3.8" rx="1.9" fill="#000" opacity="1" filter="url(#b1)"/>
<ellipse cx="336" cy="120.6" rx="15.5" ry="4.9" fill="#000" opacity="0.15" filter="url(#b3)"/>
<ellipse cx="336" cy="120.6" rx="14.5" ry="2.7" fill="#000" opacity="1" filter="url(#b1)"/>
<rect x="324" y="118.7" width="24" height="3.8" rx="1.9" fill="#000" opacity="1" filter="url(#b1)"/>
<ellipse cx="367" cy="121" rx="15.5" ry="4.8" fill="#000" opacity="0.15" filter="url(#b3)"/>
<ellipse cx="367" cy="121" rx="14.5" ry="2.6" fill="#000" opacity="1" filter="url(#b1)"/>
<rect x="355" y="119.2" width="24" height="3.6" rx="1.8" fill="#000" opacity="1" filter="url(#b1)"/>
<ellipse cx="398.5" cy="119.4" rx="15.5" ry="5.1" fill="#000" opacity="0.15" filter="url(#b3)"/>
<ellipse cx="398.5" cy="119.4" rx="14.5" ry="2.9" fill="#000" opacity="1" filter="url(#b1)"/>
<rect x="386.5" y="117.3" width="24" height="4.2" rx="2.1" fill="#000" opacity="1" filter="url(#b1)"/>
<rect x="290.5" y="105.25" width="125" height="29.5" fill="#000" opacity="0.2" filter="url(#nz)"/>
</g>
<rect x="290.5" y="105.25" width="125" height="29.5" fill="none" stroke="#333" stroke-width="1"/>
<text x="287" y="25" font-size="9" text-anchor="end" font-weight="normal" >Plac8</text>
<text x="287" y="58" font-size="9" text-anchor="end" font-weight="normal" >CD14</text>
<text x="287" y="90.6" font-size="9" text-anchor="end" font-weight="normal" >CD16</text>
<text x="287" y="123.8" font-size="9" text-anchor="end" font-weight="normal" >GAPDH</text>
<text x="418.3" y="25" font-size="9" text-anchor="start" font-weight="normal" >12KDa</text>
<text x="418.3" y="58" font-size="9" text-anchor="start" font-weight="normal" >40KDa</text>
<text x="418.3" y="91.2" font-size="9" text-anchor="start" font-weight="normal" >29KDa</text>
<text x="418.3" y="123.8" font-size="9" text-anchor="start" font-weight="normal" >36KDa</text>
<text transform="translate(311.6,146.3) rotate(-40)" font-size="9" text-anchor="end">si-Plac8-NC</text>
<text transform="translate(341,145) rotate(-40)" font-size="9" text-anchor="end">si-Plac8</text>
<text transform="translate(367.4,145) rotate(-40)" font-size="9" text-anchor="end">Plac8-NC</text>
<text transform="translate(396.8,145) rotate(-40)" font-size="9" text-anchor="end">Plac8</text>
</g>
</svg>
</body></html>
